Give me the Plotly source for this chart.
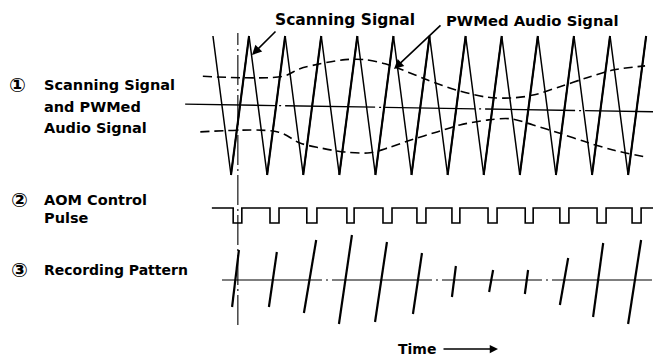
import plotly.graph_objects as go

# ---------------- data (time in scan periods, signals in normalized units) ----------------
# Scanning (triangle) signal vertices
scan_t = [-0.5, 0.0, 0.5, 1.0, 1.5, 2.0, 2.5, 3.0, 3.5, 4.0, 4.5, 5.0, 5.5,
          6.0, 6.5, 7.0, 7.5, 8.0, 8.5, 9.0, 9.5, 10.0, 10.5, 11.0, 11.5]
scan_v = [1, -1, 1, -1, 1, -1, 1, -1, 1, -1, 1, -1, 1,
          -1, 1, -1, 1, -1, 1, -1, 1, -1, 1, -1, 1]

# PWMed audio signal envelopes (dashed)
upper_t = [-0.78, 1.44, 1.91, 2.47, 3.16, 3.71, 4.27, 4.76, 5.43, 6.26, 7.09, 7.81,
           8.37, 9.11, 9.86, 10.58, 11.47]
upper_v = [0.42, 0.42, 0.53, 0.60, 0.66, 0.66, 0.60, 0.51, 0.37, 0.22, 0.12, 0.11,
           0.15, 0.27, 0.40, 0.51, 0.57]
lower_t = [-0.85, 1.30, 1.91, 2.47, 3.16, 3.85, 4.40, 4.96, 5.71, 6.34, 7.09, 7.73,
           8.37, 9.11, 9.86, 10.58, 11.47]
lower_v = [-0.38, -0.38, -0.54, -0.61, -0.67, -0.68, -0.60, -0.50, -0.38, -0.28, -0.21,
           -0.19, -0.28, -0.40, -0.53, -0.64, -0.74]

# Center (zero) line of signal 1
center_t = [-1.27, 11.69]
center_v = [0.02, -0.09]

# AOM control pulse: low intervals
dip_start = [0.06, 1.08, 2.10, 3.21, 4.21, 5.15, 6.12, 7.12, 8.15, 9.11, 10.14, 11.11]
dip_end = [0.30, 1.33, 2.38, 3.41, 4.46, 5.40, 6.34, 7.37, 8.37, 9.36, 10.39, 11.36]
pulse_span = [-0.53, 11.69]

# Recording pattern strokes (bottom end -> top end)
stroke_t0 = [0.03, 1.05, 2.02, 2.99, 3.99, 5.04, 6.12, 7.15, 8.14, 9.11, 10.03, 11.00]
stroke_t1 = [0.22, 1.27, 2.36, 3.35, 4.32, 5.29, 6.23, 7.26, 8.23, 9.34, 10.31, 11.36]
stroke_v0 = [-27, -27, -33, -44, -42, -34, -17, -12, -14, -25, -37, -44]
stroke_v1 = [30, 28, 40, 45, 38, 27, 14, 10, 10, 22, 37, 40]
record_span = [-0.25, 11.69]

marker_t = 0.19  # vertical dash-dot reference line

# ---------------- layout helpers ----------------
W, H = 653, 357
T0_PX, PER_PX = 231.0, 36.1


def px_x(px):
    return px / W


def px_y(py):
    return 1 - py / H


xr = [(0 - T0_PX) / PER_PX, (W - T0_PX) / PER_PX]
# row 1: v=+1 at py 36, v=-1 at py 175
C1, A1 = 105.5, 69.5
y1r = [(C1 - H) / A1, C1 / A1]
# row 2: high=1 at py 208, low=0 at py 223
y2r = [(223 - H) / 15.0, 223 / 15.0]
# row 3: baseline at py 280, 1 unit = 1 px
y3r = [280 - H, 280]

fig = go.Figure()
BLK = "black"

# triangle: full line, then thicker rising strokes
fig.add_trace(go.Scatter(x=scan_t, y=scan_v, mode="lines",
                         line=dict(color=BLK, width=1.5), yaxis="y", hoverinfo="skip"))
rx, ry = [], []
for i in range(len(scan_t) - 1):
    if scan_v[i + 1] > scan_v[i]:
        rx += [scan_t[i], scan_t[i + 1], None]
        ry += [scan_v[i], scan_v[i + 1], None]
fig.add_trace(go.Scatter(x=rx, y=ry, mode="lines",
                         line=dict(color=BLK, width=2.1), yaxis="y", hoverinfo="skip"))

# envelopes
for tt, vv in ((upper_t, upper_v), (lower_t, lower_v)):
    fig.add_trace(go.Scatter(x=tt, y=vv, mode="lines",
                             line=dict(color=BLK, width=1.6, dash="9px,5px",
                                       shape="spline", smoothing=0.9),
                             yaxis="y", hoverinfo="skip"))

# center line
fig.add_trace(go.Scatter(x=center_t, y=center_v, mode="lines",
                         line=dict(color=BLK, width=1.3, dash="90px,4px,2px,4px"),
                         yaxis="y", hoverinfo="skip"))

# pulse train
px_, py_ = [pulse_span[0]], [1]
for a, b in zip(dip_start, dip_end):
    px_ += [a, a, b, b]
    py_ += [1, 0, 0, 1]
px_.append(pulse_span[1])
py_.append(1)
fig.add_trace(go.Scatter(x=px_, y=py_, mode="lines",
                         line=dict(color=BLK, width=1.6), yaxis="y2", hoverinfo="skip"))

# recording baseline and strokes
fig.add_trace(go.Scatter(x=record_span, y=[0, 0], mode="lines",
                         line=dict(color=BLK, width=1.2, dash="100px,4px,2px,4px"),
                         yaxis="y3", hoverinfo="skip"))
sx, sy = [], []
for a, b, c, d in zip(stroke_t0, stroke_t1, stroke_v0, stroke_v1):
    sx += [a, b, None]
    sy += [c, d, None]
fig.add_trace(go.Scatter(x=sx, y=sy, mode="lines",
                         line=dict(color=BLK, width=2.2), yaxis="y3", hoverinfo="skip"))

# vertical dash-dot line
fig.add_shape(type="line", xref="x", yref="paper", x0=marker_t, x1=marker_t,
              y0=px_y(325), y1=px_y(33),
              line=dict(color=BLK, width=1.1, dash="30px,4px,2px,4px"))

FONT = "DejaVu Sans"
ann = []


def txt(s, x, y, size=14, xanchor="left"):
    ann.append(dict(text="<b>" + s + "</b>", x=px_x(x), y=px_y(y),
                    xref="paper", yref="paper",
                    xanchor=xanchor, yanchor="middle", showarrow=False,
                    font=dict(family=FONT, size=size, color=BLK)))


txt("\u2460", 7, 85, 20)
txt("Scanning Signal", 42, 85, 14.5)
txt("and PWMed", 42, 107, 14.5)
txt("Audio Signal", 42, 128, 14.5)
txt("\u2461", 9, 200, 20)
txt("AOM Control", 42, 200, 14.5)
txt("Pulse", 42, 218, 14.5)
txt("\u2462", 9, 270, 20)
txt("Recording Pattern", 42, 270)
txt("Scanning Signal", 345, 20, 15.5, "center")
txt("PWMed Audio Signal", 444, 20, 14.8)
txt("Time", 396, 349, 14)

# arrows (pointer lines)
def tx(px):
    return (px - T0_PX) / PER_PX


def vy(py):
    return (C1 - py) / A1


for (x0, y0, x1, y1) in ((277, 30, 252, 55), (442, 24, 394, 69)):
    ann.append(dict(text="", x=tx(x1), y=vy(y1), ax=tx(x0), ay=vy(y0),
                    xref="x", yref="y", axref="x", ayref="y", showarrow=True,
                    arrowhead=2, arrowsize=1.2, arrowwidth=1.6, arrowcolor=BLK))
ann.append(dict(text="", x=px_x(498), y=px_y(349), xref="paper", yref="paper",
                ax=-56, ay=0, showarrow=True, arrowhead=2, arrowsize=1.1,
                arrowwidth=1.5, arrowcolor=BLK))

fig.update_layout(
    width=W, height=H, margin=dict(l=0, r=0, t=0, b=0),
    paper_bgcolor="white", plot_bgcolor="white", showlegend=False,
    xaxis=dict(range=xr, visible=False, fixedrange=True),
    yaxis=dict(range=y1r, visible=False, fixedrange=True),
    yaxis2=dict(range=y2r, visible=False, overlaying="y", fixedrange=True),
    yaxis3=dict(range=y3r, visible=False, overlaying="y", fixedrange=True),
    annotations=ann,
)

fig.write_html("out.html", config={"displayModeBar": False},
               post_script="document.body.style.margin='0';document.body.style.overflow='hidden';")
